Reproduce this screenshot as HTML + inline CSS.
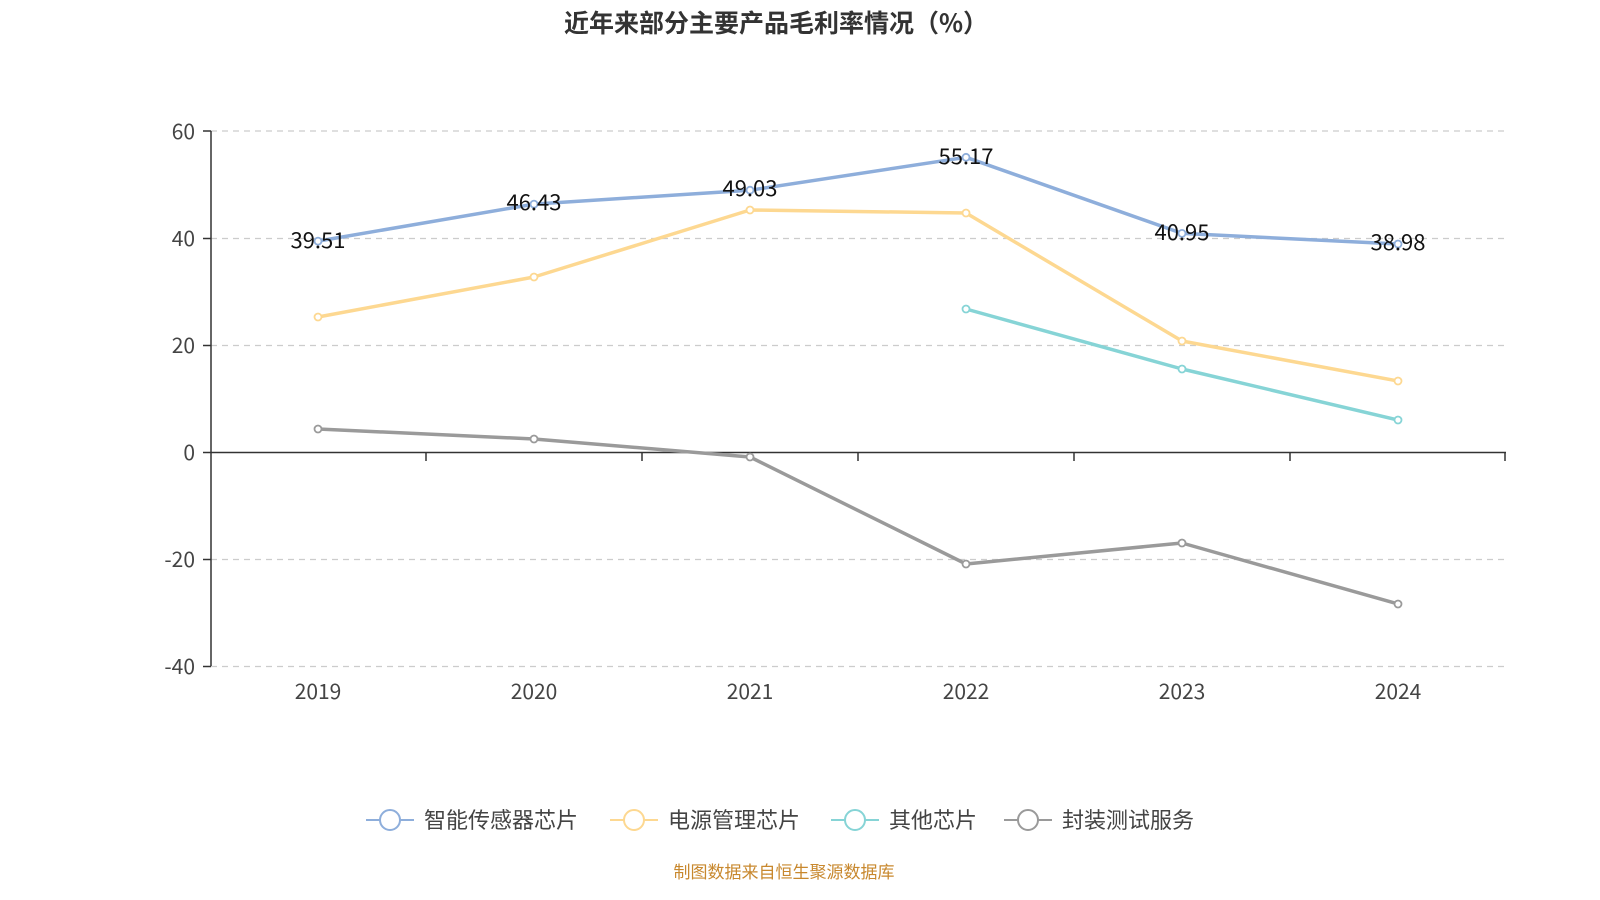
<!DOCTYPE html>
<html><head><meta charset="utf-8"><style>
html,body{margin:0;padding:0;background:#fff;}
svg{display:block;font-family:"Noto Sans CJK SC","Liberation Sans",sans-serif;}
</style></head><body>
<svg width="1600" height="900" viewBox="0 0 1600 900">
<text x="776" y="32" text-anchor="middle" font-size="25" font-weight="bold" fill="#333">近年来部分主要产品毛利率情况（%）</text>
<g stroke="#ccc" stroke-dasharray="6,5" stroke-width="1.2">
<line x1="211" x2="1505" y1="131" y2="131"/><line x1="211" x2="1505" y1="238.5" y2="238.5"/>
<line x1="211" x2="1505" y1="345.5" y2="345.5"/><line x1="211" x2="1505" y1="559.5" y2="559.5"/>
<line x1="211" x2="1505" y1="666.5" y2="666.5"/>
</g>
<g stroke="#333" stroke-width="1.5">
<line x1="211" x2="211" y1="131" y2="666"/>
<line x1="211" x2="1506" y1="452.5" y2="452.5"/>
<line x1="203" x2="211" y1="131" y2="131"/><line x1="203" x2="211" y1="238.5" y2="238.5"/>
<line x1="203" x2="211" y1="345.5" y2="345.5"/><line x1="203" x2="211" y1="452.5" y2="452.5"/>
<line x1="203" x2="211" y1="559.5" y2="559.5"/><line x1="203" x2="211" y1="666.5" y2="666.5"/>
<line x1="426" x2="426" y1="452" y2="461"/><line x1="642" x2="642" y1="452" y2="461"/>
<line x1="858" x2="858" y1="452" y2="461"/><line x1="1074" x2="1074" y1="452" y2="461"/>
<line x1="1290" x2="1290" y1="452" y2="461"/><line x1="1505" x2="1505" y1="452" y2="461"/>
</g>
<g font-size="21" fill="#444" text-anchor="end">
<text x="195" y="139">60</text><text x="195" y="246">40</text><text x="195" y="353">20</text>
<text x="195" y="460">0</text><text x="195" y="567">-20</text><text x="195" y="674">-40</text>
</g>
<g font-size="21" fill="#444" text-anchor="middle">
<text x="318" y="699">2019</text><text x="534" y="699">2020</text><text x="750" y="699">2021</text>
<text x="966" y="699">2022</text><text x="1182" y="699">2023</text><text x="1398" y="699">2024</text>
</g>
<g fill="none" stroke-width="3.5" stroke-linejoin="round">
<polyline stroke="#8eaedb" points="318,241.1 534,204.1 750,190.2 966,157.3 1182,233.4 1398,244"/>
<polyline stroke="#fdd891" points="318,317 534,277 750,210 966,213 1182,341 1398,381"/>
<polyline stroke="#86d4d6" points="966,309 1182,369 1398,420"/>
<polyline stroke="#9a9a9a" points="318,429 534,439 750,457 966,564 1182,543 1398,604"/>
</g>
<g fill="#fff" stroke-width="1.8">
<g stroke="#8eaedb"><circle cx="318" cy="241.1" r="3.5"/><circle cx="534" cy="204.1" r="3.5"/><circle cx="750" cy="190.2" r="3.5"/><circle cx="966" cy="157.3" r="3.5"/><circle cx="1182" cy="233.4" r="3.5"/><circle cx="1398" cy="244" r="3.5"/></g>
<g stroke="#fdd891"><circle cx="318" cy="317" r="3.5"/><circle cx="534" cy="277" r="3.5"/><circle cx="750" cy="210" r="3.5"/><circle cx="966" cy="213" r="3.5"/><circle cx="1182" cy="341" r="3.5"/><circle cx="1398" cy="381" r="3.5"/></g>
<g stroke="#86d4d6"><circle cx="966" cy="309" r="3.5"/><circle cx="1182" cy="369" r="3.5"/><circle cx="1398" cy="420" r="3.5"/></g>
<g stroke="#9a9a9a"><circle cx="318" cy="429" r="3.5"/><circle cx="534" cy="439" r="3.5"/><circle cx="750" cy="457" r="3.5"/><circle cx="966" cy="564" r="3.5"/><circle cx="1182" cy="543" r="3.5"/><circle cx="1398" cy="604" r="3.5"/></g>
</g>
<g font-size="22" fill="#111" text-anchor="middle">
<text x="318" y="248">39.51</text><text x="534" y="210">46.43</text><text x="750" y="196">49.03</text>
<text x="966" y="164">55.17</text><text x="1182" y="240">40.95</text><text x="1398" y="250">38.98</text>
</g>
<g font-size="22" fill="#444">
<line x1="366" x2="414" y1="820" y2="820" stroke="#8eaedb" stroke-width="2"/><circle cx="390" cy="820" r="10" fill="#fff" stroke="#8eaedb" stroke-width="2"/>
<text x="424" y="828">智能传感器芯片</text>
<line x1="610" x2="658" y1="820" y2="820" stroke="#fdd891" stroke-width="2"/><circle cx="634" cy="820" r="10" fill="#fff" stroke="#fdd891" stroke-width="2"/>
<text x="668" y="828">电源管理芯片</text>
<line x1="831" x2="879" y1="820" y2="820" stroke="#86d4d6" stroke-width="2"/><circle cx="855" cy="820" r="10" fill="#fff" stroke="#86d4d6" stroke-width="2"/>
<text x="889" y="828">其他芯片</text>
<line x1="1004" x2="1052" y1="820" y2="820" stroke="#9a9a9a" stroke-width="2"/><circle cx="1028" cy="820" r="10" fill="#fff" stroke="#9a9a9a" stroke-width="2"/>
<text x="1062" y="828">封装测试服务</text>
</g>
<text x="784" y="878" text-anchor="middle" font-size="17" fill="#c8882e">制图数据来自恒生聚源数据库</text>
</svg>
</body></html>
